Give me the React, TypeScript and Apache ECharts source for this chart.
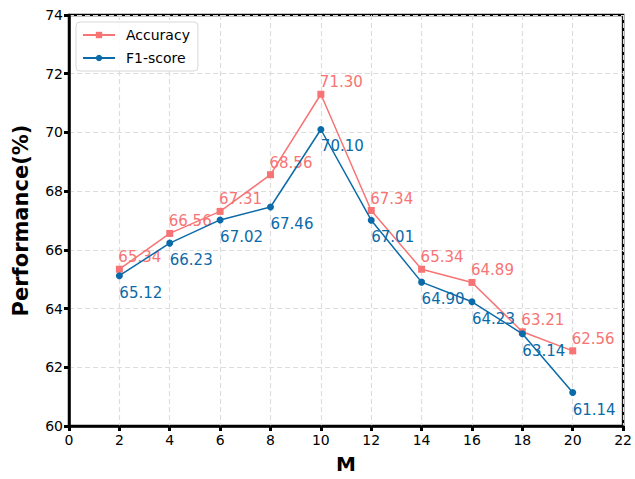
import React, { useEffect, useRef } from "react";
import * as echarts from "echarts";

const mValues = [2, 4, 6, 8, 10, 12, 14, 16, 18, 20];
const accuracy = [65.34, 66.56, 67.31, 68.56, 71.3, 67.34, 65.34, 64.89, 63.21, 62.56];
const f1Score = [65.12, 66.23, 67.02, 67.46, 70.1, 67.01, 64.9, 64.23, 63.14, 61.14];
const seriesNames = ["Accuracy", "F1-score"];

const ACC_COLOR = "#f87474";
const F1_COLOR = "#0b6aa8";
const FONT = "DejaVu Sans";

export default function App() {
  const ref = useRef<HTMLDivElement>(null);
  useEffect(() => {
    if (!ref.current) return;
    document.body.style.margin = "0";
    document.body.style.overflow = "hidden";
    const chart = echarts.init(ref.current, undefined, { renderer: "svg", width: 635, height: 479 });
    const pair = (arr: number[]) => mValues.map((m, i) => [m, arr[i]]);
    chart.setOption({
      animation: false,
      textStyle: { fontFamily: FONT },
      grid: {
        left: 69,
        right: 9,
        top: 15,
        bottom: 49,
        show: true,
        borderColor: "#000",
        borderWidth: 2.5,
      },
      legend: {
        orient: "vertical",
        left: 76,
        top: 22,
        padding: [6, 8, 6, 6],
        itemGap: 9,
        itemWidth: 32,
        itemHeight: 8,
        backgroundColor: "rgba(255,255,255,0.85)",
        borderColor: "#d8d8d8",
        borderWidth: 1,
        borderRadius: 4,
        textStyle: { fontFamily: FONT, fontSize: 14, color: "#000", padding: [0, 0, 0, 6] },
        data: seriesNames,
      },
      xAxis: {
        type: "value",
        min: 0,
        max: 22,
        interval: 2,
        name: "M",
        nameLocation: "middle",
        nameGap: 28,
        nameTextStyle: { fontFamily: FONT, fontSize: 20, fontWeight: "bold", color: "#000" },
        axisLine: { lineStyle: { color: "#000", width: 2.5 } },
        axisTick: { show: true, length: 5, lineStyle: { color: "#000", width: 3 } },
        axisLabel: { fontFamily: FONT, fontSize: 14, color: "#000", margin: 7 },
        splitLine: { show: true, lineStyle: { color: "#dddddd", type: [5, 3], width: 1.2 } },
      },
      yAxis: {
        type: "value",
        min: 60,
        max: 74,
        interval: 2,
        name: "Performance(%)",
        nameLocation: "middle",
        nameGap: 38,
        nameTextStyle: { fontFamily: FONT, fontSize: 21, fontWeight: "bold", color: "#000" },
        axisLine: { show: true, lineStyle: { color: "#000", width: 2.5 } },
        axisTick: { show: true, length: 5, lineStyle: { color: "#000", width: 3 } },
        axisLabel: { fontFamily: FONT, fontSize: 14, color: "#000", margin: 6 },
        splitLine: { show: true, lineStyle: { color: "#dddddd", type: [5, 3], width: 1.2 } },
      },
      series: [
        {
          name: seriesNames[0],
          type: "line",
          data: pair(accuracy),
          symbol: "rect",
          symbolSize: 7,
          color: ACC_COLOR,
          lineStyle: { width: 1.5, color: ACC_COLOR },
          itemStyle: { color: ACC_COLOR },
          label: {
            show: true,
            position: "inside",
            align: "left",
            verticalAlign: "middle",
            offset: [-1, -12],
            fontFamily: FONT,
            fontSize: 15,
            color: ACC_COLOR,
            formatter: (p: any) => p.value[1].toFixed(2),
          },
          z: 3,
        },
        {
          name: seriesNames[1],
          type: "line",
          data: pair(f1Score),
          symbol: "circle",
          symbolSize: 7,
          color: F1_COLOR,
          lineStyle: { width: 1.5, color: F1_COLOR },
          itemStyle: { color: F1_COLOR },
          label: {
            show: true,
            position: "inside",
            align: "left",
            verticalAlign: "middle",
            offset: [0, 17],
            fontFamily: FONT,
            fontSize: 15,
            color: F1_COLOR,
            formatter: (p: any) => p.value[1].toFixed(2),
          },
          z: 4,
        },
      ],
    });
    return () => chart.dispose();
  }, []);
  return <div ref={ref} style={{ width: 635, height: 479, position: "absolute", left: 0, top: 0 }} />;
}
